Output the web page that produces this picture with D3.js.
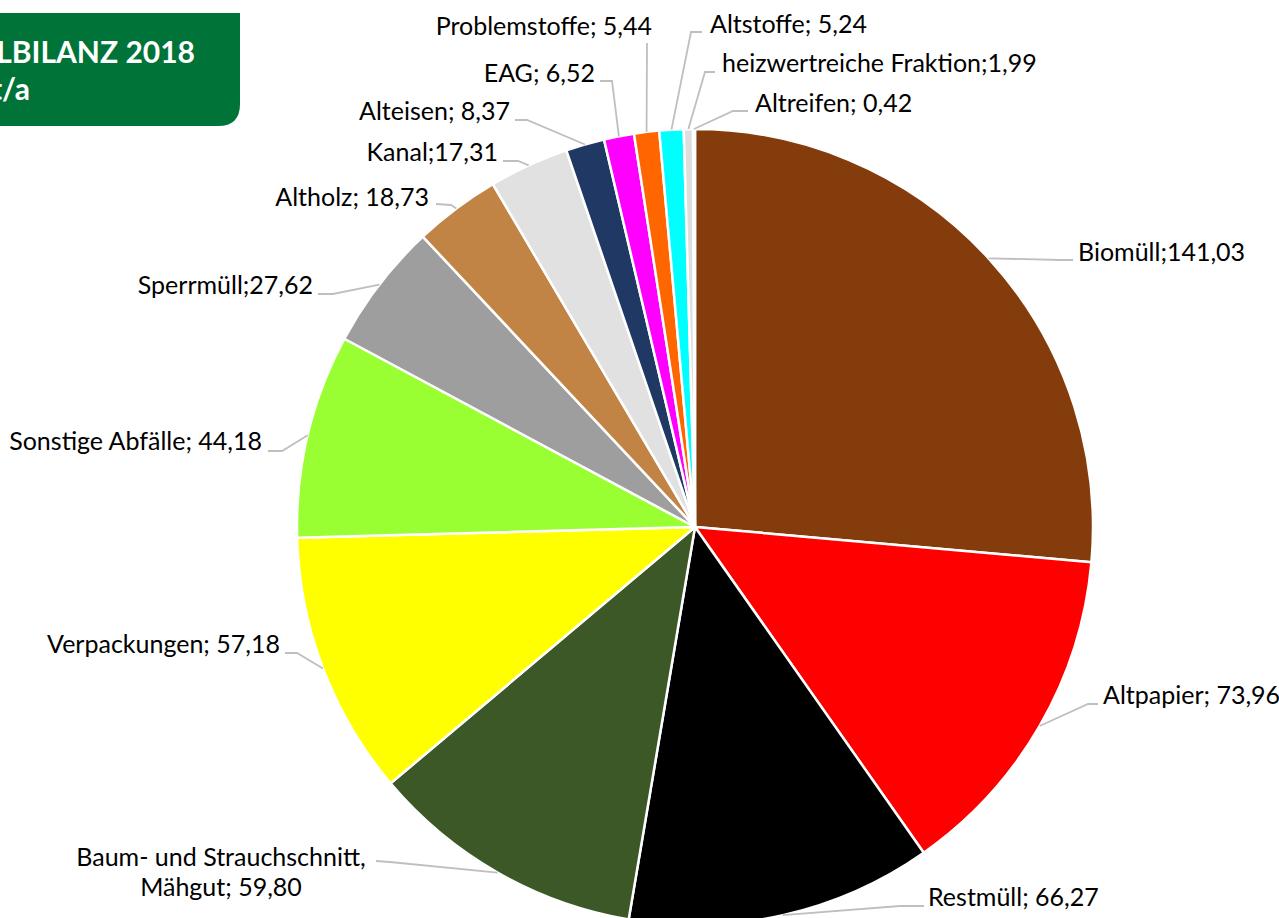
<!DOCTYPE html>
<html>
<head>
<meta charset="utf-8">
<script src="https://cdn.jsdelivr.net/npm/d3@7"></script>
<style>
  html, body { margin: 0; padding: 0; background: #fff; }
  #chart { width: 1279px; height: 918px; }
  text { font-family: Lato, "Noto Sans", sans-serif; }
</style>
</head>
<body>
<div id="chart"></div>
<script>
// Abfallbilanz 2018, Mengen in 1.000 t/a
const categories = ["Biomüll", "Altpapier", "Restmüll", "Baum- und Strauchschnitt, Mähgut",
  "Verpackungen", "Sonstige Abfälle", "Sperrmüll", "Altholz", "Kanal", "Alteisen", "EAG",
  "Problemstoffe", "Altstoffe", "heizwertreiche Fraktion", "Altreifen"];
const values = [141.03, 73.96, 66.27, 59.80, 57.18, 44.18, 27.62, 18.73, 17.31, 8.37, 6.52,
  5.44, 5.24, 1.99, 0.42];
const separators = [";", "; ", "; ", "; ", "; ", "; ", ";", "; ", ";", "; ", "; ", "; ", "; ", ";", "; "];
const colors = ["#843c0c", "#ff0000", "#000000", "#3b5826", "#ffff00", "#99ff33", "#9e9e9e",
  "#c18444", "#e1e1e1", "#203864", "#ff00ff", "#ff6600", "#00ffff", "#dedede", "#bfbfbf"];

// label placement (Excel-style)
const labelLayout = [
  {x: 1078, y: 261, anchor: "start", elbow: [1060, 260], end: [1073, 260]},
  {x: 1103, y: 704, anchor: "start", elbow: [1088, 704], end: [1098, 704]},
  {x: 928,  y: 906, anchor: "start", elbow: [900, 906],  end: [924, 906]},
  {x: 221,  y: 866, anchor: "middle", elbow: [390, 862], end: [376, 861]},
  {x: 280,  y: 653, anchor: "end",   elbow: [297, 653],  end: [285, 653]},
  {x: 262,  y: 450, anchor: "end",   elbow: [282, 451],  end: [268, 451]},
  {x: 313,  y: 294, anchor: "end",   elbow: [333, 294],  end: [318, 294]},
  {x: 429,  y: 206, anchor: "end",   elbow: [451, 205],  end: [436, 204]},
  {x: 498,  y: 161, anchor: "end",   elbow: [518, 161],  end: [503, 161]},
  {x: 510,  y: 120, anchor: "end",   elbow: [527, 120],  end: [515, 120]},
  {x: 595,  y: 82,  anchor: "end",   elbow: [612, 81],   end: [600, 81]},
  {x: 652,  y: 35,  anchor: "end",   elbow: [647, 43],   end: [647, 43]},
  {x: 710,  y: 33,  anchor: "start", elbow: [691, 32],   end: [702, 32]},
  {x: 722,  y: 72,  anchor: "start", elbow: [705, 72],   end: [715, 72]},
  {x: 755,  y: 112, anchor: "start", elbow: [733, 111],  end: [748, 111]}
];

const W = 1279, H = 918;
const cx = 695, cy = 527, R = 398;
const fmt = v => d3.format(".2f")(v).replace(".", ",");

const svg = d3.select("#chart").append("svg").attr("width", W).attr("height", H);

// title box (cut off at the left edge, as in the original)
const box = {x0: -20, x1: 240, y0: 13, y1: 126, r: 22};
svg.append("path")
  .attr("d", `M${box.x0},${box.y0} H${box.x1} V${box.y1 - box.r} Q${box.x1},${box.y1} ${box.x1 - box.r},${box.y1} H${box.x0} Z`)
  .attr("fill", "#007338");
svg.append("text").attr("x", 195).attr("y", 63).attr("text-anchor", "end")
  .attr("fill", "#fff").attr("font-size", 30).attr("font-weight", 700)
  .text("ABFALLBILANZ 2018");
svg.append("text").attr("x", 30).attr("y", 100).attr("text-anchor", "end")
  .attr("fill", "#fff").attr("font-size", 30).attr("font-weight", 700)
  .text("in 1.000 t/a");

const data = categories.map((c, i) => ({name: c, value: values[i], sep: separators[i], color: colors[i], lay: labelLayout[i]}));

const pie = d3.pie().value(d => d.value).sort(null);
const arcs = pie(data);
const arc = d3.arc().innerRadius(0).outerRadius(R);

const g = svg.append("g").attr("transform", `translate(${cx},${cy})`);

g.selectAll("path.slice")
  .data(arcs)
  .join("path")
  .attr("class", "slice")
  .attr("d", arc)
  .attr("fill", d => d.data.color)
  .attr("stroke", "#fff")
  .attr("stroke-width", 2.5)
  .attr("stroke-linejoin", "round");

// leader lines from the arc midpoint to the label
const edgePoint = d => {
  const a = (d.startAngle + d.endAngle) / 2;
  return [cx + R * Math.sin(a), cy - R * Math.cos(a)];
};
const line = d3.line();
svg.append("g").selectAll("path")
  .data(arcs)
  .join("path")
  .attr("d", d => line([edgePoint(d), d.data.lay.elbow, d.data.lay.end]))
  .attr("fill", "none")
  .attr("stroke", "#bfbfbf")
  .attr("stroke-width", 1.8);

// labels
const labels = svg.append("g").selectAll("text")
  .data(arcs)
  .join("text")
  .attr("x", d => d.data.lay.x)
  .attr("y", d => d.data.lay.y)
  .attr("text-anchor", d => d.data.lay.anchor)
  .attr("font-size", 25)
  .attr("fill", "#000");

labels.each(function(d) {
  const t = d3.select(this);
  const full = d.data.name + d.data.sep + fmt(d.data.value);
  if (d.data.name.includes(", ")) {
    const parts = full.split(", ");
    t.append("tspan").attr("x", d.data.lay.x).text(parts[0] + ",");
    t.append("tspan").attr("x", d.data.lay.x).attr("dy", 30).text(parts[1]);
  } else {
    t.text(full);
  }
});
</script>
</body>
</html>
